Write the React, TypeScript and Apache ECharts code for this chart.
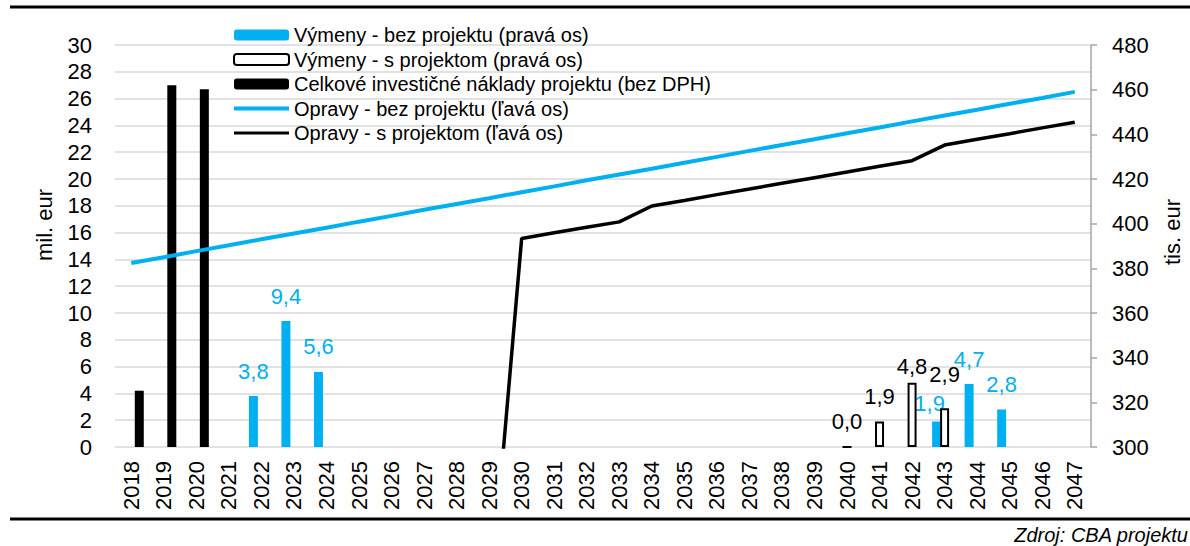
import React, { useEffect, useRef } from "react";
import * as echarts from "echarts";

const years = [
  "2018", "2019", "2020", "2021", "2022", "2023", "2024", "2025", "2026", "2027",
  "2028", "2029", "2030", "2031", "2032", "2033", "2034", "2035", "2036", "2037",
  "2038", "2039", "2040", "2041", "2042", "2043", "2044", "2045", "2046", "2047",
];

// Výmeny - bez projektu
const vymenyBez: (number | null)[] = [
  null, null, null, null, 3.8, 9.4, 5.6, null, null, null,
  null, null, null, null, null, null, null, null, null, null,
  null, null, null, null, null, 1.9, 4.7, 2.8, null, null,
];
// Výmeny - s projektom
const vymenyS: (number | null)[] = [
  null, null, null, null, null, null, null, null, null, null,
  null, null, null, null, null, null, null, null, null, null,
  null, null, 0.0, 1.9, 4.8, 2.9, null, null, null, null,
];
// Celkové investičné náklady projektu (bez DPH)
const naklady: (number | null)[] = [
  4.2, 27.0, 26.7, null, null, null, null, null, null, null,
  null, null, null, null, null, null, null, null, null, null,
  null, null, null, null, null, null, null, null, null, null,
];
// Opravy - bez projektu
const opravyBez: number[] = [
  382.4, 385.0, 387.7, 390.3, 393.0, 395.6, 398.2, 400.9, 403.5, 406.2,
  408.8, 411.4, 414.1, 416.7, 419.4, 422.0, 424.6, 427.3, 429.9, 432.6,
  435.2, 437.8, 440.5, 443.1, 445.8, 448.4, 451.0, 453.7, 456.3, 459.0,
];
// Opravy - s projektom
const opravyS: (number | null)[] = [
  null, null, null, null, null, null, null, null, null, null,
  null, 225.0, 393.4, 395.9, 398.4, 400.8, 407.9, 410.4, 413.0, 415.5,
  418.1, 420.6, 423.1, 425.7, 428.2, 435.2, 437.8, 440.3, 442.9, 445.4,
];

const leftTicks = { min: 0, max: 30, interval: 2 };
const rightTicks = { min: 300, max: 480, interval: 20 };

const seriesNames = [
  "Výmeny - bez projektu (pravá os)",
  "Výmeny - s projektom (pravá os)",
  "Celkové investičné náklady projektu (bez DPH)",
  "Opravy - bez projektu (ľavá os)",
  "Opravy - s projektom (ľavá os)",
];

const FONT = "'Liberation Sans', Arial, sans-serif";
const BLUE = "#00B0F0";
const FS = 22;

const fmt = (v: number) => v.toFixed(1).replace(".", ",");

export default function App() {
  const ref = useRef<HTMLDivElement>(null);
  useEffect(() => {
    if (!ref.current) return;
    const chart = echarts.init(ref.current, undefined, { renderer: "svg" });

    const labelOffsets: Record<string, Record<number, number[]>> = {
      bez: { 25: [-7, 7] },
      s: { 24: [0, 9], 25: [0, -9] },
    };
    const mk = (arr: (number | null)[], key: string) =>
      arr.map((v, i) => {
        if (v === null) return null;
        const off = labelOffsets[key] && labelOffsets[key][i];
        return off ? { value: v, label: { offset: off } } : v;
      });

    const barLabel = (color: string) => ({
      show: true,
      position: "top",
      distance: 14,
      color,
      fontFamily: FONT,
      fontSize: FS,
      formatter: (p: any) => fmt(p.value),
    });

    chart.setOption({
      animation: false,
      textStyle: { fontFamily: FONT },
      grid: { left: 115, right: 99, top: 45, bottom: 99, containLabel: false },
      legend: {
        orient: "vertical",
        left: 233,
        top: 23,
        padding: 0,
        itemWidth: 55,
        itemHeight: 11,
        itemGap: 0.5,
        selectedMode: false,
        symbolKeepAspect: true,
        textStyle: { fontFamily: FONT, fontSize: 20, color: "#000", lineHeight: 24 },
        data: [
          { name: seriesNames[0] },
          { name: seriesNames[1] },
          { name: seriesNames[2] },
          { name: seriesNames[3], icon: "path://M0,0H55V4H0Z" },
          { name: seriesNames[4], icon: "path://M0,0H55V3H0Z" },
        ],
      },
      xAxis: {
        type: "category",
        data: years,
        axisLine: { show: false },
        axisTick: { show: false },
        axisLabel: {
          rotate: 90,
          interval: 0,
          margin: 14,
          fontFamily: FONT,
          fontSize: FS,
          color: "#000",
        },
      },
      yAxis: [
        {
          type: "value",
          min: leftTicks.min,
          max: leftTicks.max,
          interval: leftTicks.interval,
          axisLine: { show: false },
          axisTick: { show: false },
          axisLabel: { margin: 23, fontFamily: FONT, fontSize: FS, color: "#000" },
          splitLine: { lineStyle: { color: "#d9d9d9", width: 1.6 } },
        },
        {
          type: "value",
          min: rightTicks.min,
          max: rightTicks.max,
          interval: rightTicks.interval,
          axisLine: { show: true, lineStyle: { color: "#a6a6a6", width: 1.5 } },
          axisTick: { show: true, inside: false, length: 6, lineStyle: { color: "#a6a6a6", width: 1.5 } },
          axisLabel: { margin: 21, fontFamily: FONT, fontSize: FS, color: "#000" },
          splitLine: { show: false },
        },
      ],
      series: [
        {
          name: seriesNames[0],
          type: "bar",
          yAxisIndex: 0,
          barWidth: 9,
          barGap: "-11%",
          data: mk(vymenyBez, "bez"),
          itemStyle: { color: BLUE },
          label: barLabel(BLUE),
          z: 2,
        },
        {
          name: seriesNames[1],
          type: "bar",
          yAxisIndex: 0,
          barWidth: 9,
          barGap: "-11%",
          data: mk(vymenyS, "s"),
          itemStyle: { color: "#ffffff", borderColor: "#000000", borderWidth: 2 },
          label: barLabel("#000"),
          z: 3,
        },
        {
          name: seriesNames[2],
          type: "bar",
          yAxisIndex: 0,
          barWidth: 9,
          barGap: "-11%",
          data: naklady,
          itemStyle: { color: "#000000" },
          z: 2,
        },
        {
          name: seriesNames[3],
          type: "line",
          yAxisIndex: 1,
          data: opravyBez,
          symbol: "none",
          showSymbol: false,
          lineStyle: { color: BLUE, width: 4 },
          itemStyle: { color: BLUE },
          z: 5,
        },
        {
          name: seriesNames[4],
          type: "line",
          yAxisIndex: 1,
          data: opravyS,
          symbol: "none",
          showSymbol: false,
          clip: true,
          lineStyle: { color: "#000", width: 3.5 },
          itemStyle: { color: "#000" },
          z: 5,
        },
      ],
      graphic: [
        {
          type: "line",
          shape: { x1: 10, y1: 7, x2: 1190, y2: 7 },
          style: { stroke: "#000", lineWidth: 3 },
        },
        {
          type: "line",
          shape: { x1: 10, y1: 519, x2: 1190, y2: 519 },
          style: { stroke: "#000", lineWidth: 3 },
        },
        {
          type: "text",
          x: 44,
          y: 225,
          rotation: Math.PI / 2,
          style: {
            text: "mil. eur",
            fontFamily: FONT,
            fontSize: FS,
            fill: "#000",
            align: "center",
            verticalAlign: "middle",
          },
        },
        {
          type: "text",
          x: 1172,
          y: 232,
          rotation: Math.PI / 2,
          style: {
            text: "tis. eur",
            fontFamily: FONT,
            fontSize: FS,
            fill: "#000",
            align: "center",
            verticalAlign: "middle",
          },
        },
        {
          type: "text",
          x: 1188,
          y: 535,
          style: {
            text: "Zdroj: CBA projektu",
            fontFamily: FONT,
            fontSize: 20,
            fontStyle: "italic",
            fill: "#000",
            align: "right",
            verticalAlign: "middle",
          },
        },
      ],
    });
    return () => chart.dispose();
  }, []);

  return (
    <div
      ref={ref}
      style={{ position: "fixed", left: 0, top: 0, width: 1190, height: 546, background: "#fff" }}
    />
  );
}
